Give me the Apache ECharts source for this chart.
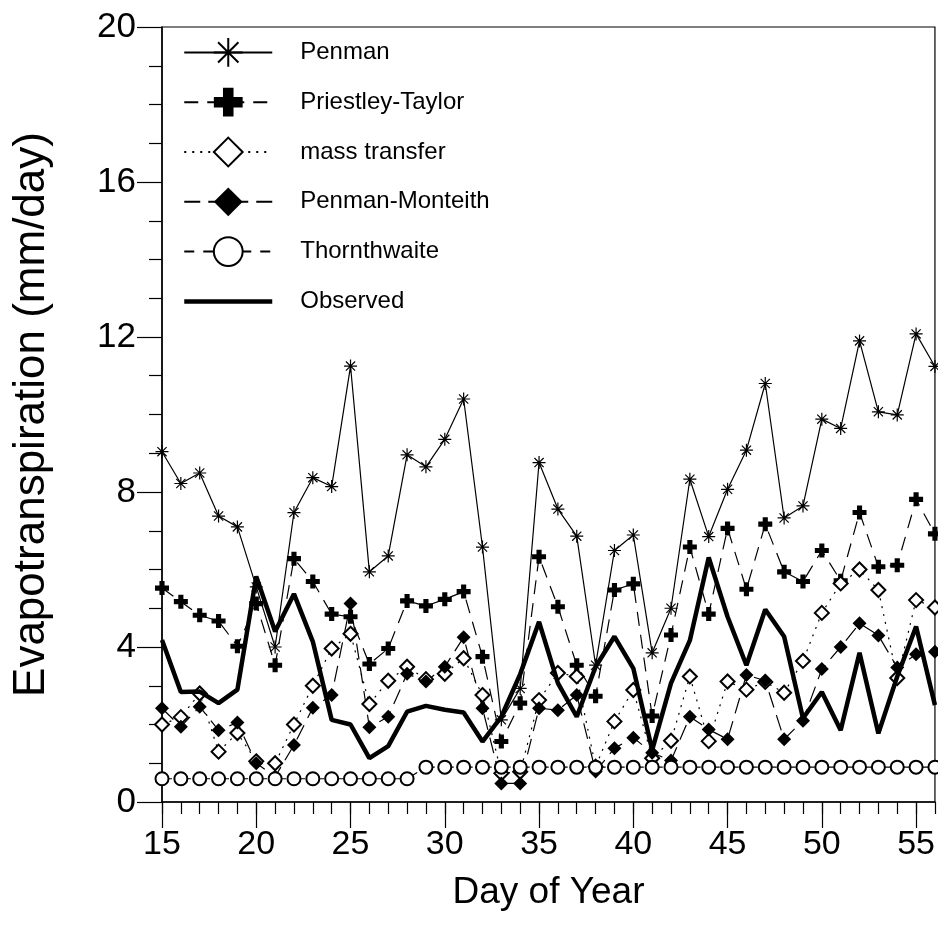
<!DOCTYPE html>
<html><head><meta charset="utf-8">
<script src="https://cdn.jsdelivr.net/npm/echarts@6/dist/echarts.min.js"></script>
<style>html,body{margin:0;padding:0;background:#fff}#c{width:938px;height:927px}</style>
</head><body><div id="c"></div>
<script>
const days = [15,16,17,18,19,20,21,22,23,24,25,26,27,28,29,30,31,32,33,34,35,36,37,38,39,40,41,42,43,44,45,46,47,48,49,50,51,52,53,54,55,56];
const penman = [9.04,8.22,8.49,7.38,7.10,5.55,4.0,7.47,8.37,8.14,11.25,5.94,6.35,8.96,8.65,9.36,10.4,6.58,2.12,2.93,8.76,7.56,6.86,3.53,6.49,6.89,3.85,5.0,8.33,6.85,8.07,9.08,10.8,7.33,7.64,9.88,9.64,11.9,10.07,9.99,12.08,11.24];
const priestleyTaylor = [5.52,5.17,4.82,4.67,4.02,5.12,3.53,6.28,5.69,4.85,4.78,3.56,3.96,5.19,5.06,5.23,5.43,3.75,1.56,2.55,6.33,5.04,3.53,2.73,5.47,5.63,2.22,4.31,6.58,4.85,7.06,5.49,7.17,5.94,5.69,6.49,5.71,7.47,6.07,6.11,7.81,6.92];
const massTransfer = [2.0,2.19,2.8,1.3,1.78,1.05,1.0,2.0,3.0,3.96,4.34,2.53,3.13,3.49,3.17,3.31,3.71,2.76,0.74,0.78,2.63,3.33,3.24,0.91,2.08,2.89,1.13,1.58,3.24,1.57,3.11,2.9,3.1,2.82,3.64,4.88,5.64,6.0,5.47,3.2,5.21,5.02];
const penmanMonteith = [2.42,1.94,2.46,1.85,2.05,1.0,0.65,1.47,2.43,2.76,5.12,1.93,2.2,3.31,3.11,3.49,4.25,2.42,0.48,0.48,2.42,2.37,2.76,0.79,1.39,1.66,1.27,1.07,2.2,1.87,1.62,3.28,3.13,1.62,2.1,3.43,4.0,4.61,4.3,3.47,3.81,3.88];
const thornthwaite = [0.6,0.6,0.6,0.6,0.6,0.6,0.6,0.6,0.6,0.6,0.6,0.6,0.6,0.6,0.9,0.9,0.9,0.9,0.9,0.9,0.9,0.9,0.9,0.9,0.9,0.9,0.9,0.9,0.9,0.9,0.9,0.9,0.9,0.9,0.9,0.9,0.9,0.9,0.9,0.9,0.9,0.9];
const observed = [4.18,2.84,2.85,2.55,2.9,5.82,4.4,5.37,4.14,2.12,2.0,1.13,1.44,2.33,2.48,2.38,2.31,1.56,2.2,3.3,4.65,3.07,2.2,3.49,4.27,3.45,1.34,3.07,4.17,6.31,4.78,3.53,4.97,4.27,2.16,2.84,1.85,3.85,1.77,3.24,4.53,2.5];
const seriesNames = ['Penman','Priestley-Taylor','mass transfer','Penman-Monteith','Thornthwaite','Observed'];
const xMajorTicks = [15,20,25,30,35,40,45,50,55];

const FONT = '"Liberation Sans", Arial, sans-serif';
const pair = arr => days.map((d,i)=>[d,arr[i]]);
const ASTER = 'path://M0,-10L0,10M-10,0L10,0M-7.07,-7.07L7.07,7.07M-7.07,7.07L7.07,-7.07';
const PLUS = 'path://M-2.2,-6H2.2V-2.2H6V2.2H2.2V6H-2.2V2.2H-6V-2.2H-2.2Z';

const chart = echarts.init(document.getElementById('c'), null, {renderer:'canvas'});
chart.setOption({
  animation:false,
  backgroundColor:'#fff',
  textStyle:{fontFamily:FONT,color:'#000'},
  grid:{left:162,right:3,top:27,bottom:125,show:true,borderColor:'#000',borderWidth:1.2,backgroundColor:'transparent'},
  legend:{
    orient:'vertical',left:182,top:37,padding:0,itemWidth:88,itemHeight:36,itemGap:20,
    textStyle:{fontFamily:FONT,fontSize:24,color:'#000',padding:[0,0,0,23]},
    data:[
      {name:'Penman'},{name:'Priestley-Taylor'},{name:'mass transfer'},{name:'Penman-Monteith'},{name:'Thornthwaite'},
      {name:'Observed',itemStyle:{color:'rgba(0,0,0,0)',borderWidth:0,opacity:0},lineStyle:{width:4.5,color:'#000'}}
    ]
  },
  xAxis:[{
    type:'value',min:15,max:56,interval:5,
    axisLine:{show:true,lineStyle:{color:'#000',width:1.5}},
    axisTick:{show:true,inside:false,length:26,customValues:xMajorTicks,lineStyle:{color:'#000',width:1.2}},
    axisLabel:{show:true,customValues:xMajorTicks,margin:26,fontSize:34,fontFamily:FONT,color:'#000'},
    splitLine:{show:false},
    name:'Day of Year',nameLocation:'middle',nameGap:72,nameTextStyle:{fontSize:37,fontFamily:FONT,color:'#000'}
  },{
    type:'value',min:15,max:56,position:'bottom',gridIndex:0,
    axisLine:{show:false},
    axisTick:{show:true,inside:false,length:12,customValues:days,lineStyle:{color:'#000',width:1.2}},
    axisLabel:{show:false},splitLine:{show:false}
  }],
  yAxis:{
    type:'value',min:0,max:20,interval:4,
    axisLine:{show:true,lineStyle:{color:'#000',width:1.5}},
    axisTick:{show:true,inside:false,length:25,lineStyle:{color:'#000',width:1.2}},
    minorTick:{show:true,splitNumber:4,length:13,lineStyle:{color:'#000',width:1.2}},
    axisLabel:{margin:26,fontSize:35,fontFamily:FONT,color:'#000'},
    splitLine:{show:false},
    name:'Evapotranspiration (mm/day)',nameLocation:'middle',nameGap:108,nameRotate:90,
    nameTextStyle:{fontSize:44,fontFamily:FONT,color:'#000'}
  },
  series:[
    {name:'Penman',type:'line',data:pair(penman),symbol:ASTER,symbolSize:13,symbolKeepAspect:true,
     itemStyle:{color:'#000',borderColor:'#000',borderWidth:1.2},lineStyle:{color:'#000',width:1.2},z:3},
    {name:'Priestley-Taylor',type:'line',data:pair(priestleyTaylor),symbol:PLUS,symbolSize:14,
     itemStyle:{color:'#000'},lineStyle:{color:'#000',width:1.2,type:[14,9]},z:3},
    {name:'mass transfer',type:'line',data:pair(massTransfer),symbol:'emptyDiamond',symbolSize:14,
     itemStyle:{color:'#000',borderWidth:1.2},lineStyle:{color:'#000',width:1.2,type:[2,6]},z:3},
    {name:'Penman-Monteith',type:'line',data:pair(penmanMonteith),symbol:'diamond',symbolSize:14,
     itemStyle:{color:'#000'},lineStyle:{color:'#000',width:1.2,type:[16,8]},z:3},
    {name:'Thornthwaite',type:'line',data:pair(thornthwaite),symbol:'emptyCircle',symbolSize:13,
     itemStyle:{color:'#000',borderWidth:1.2},lineStyle:{color:'#000',width:1.2,type:[10,9]},z:3},
    {name:'Observed',type:'line',data:pair(observed),symbol:'none',showSymbol:false,
     lineStyle:{color:'#000',width:4.5},z:4}
  ]
});
</script></body></html>
